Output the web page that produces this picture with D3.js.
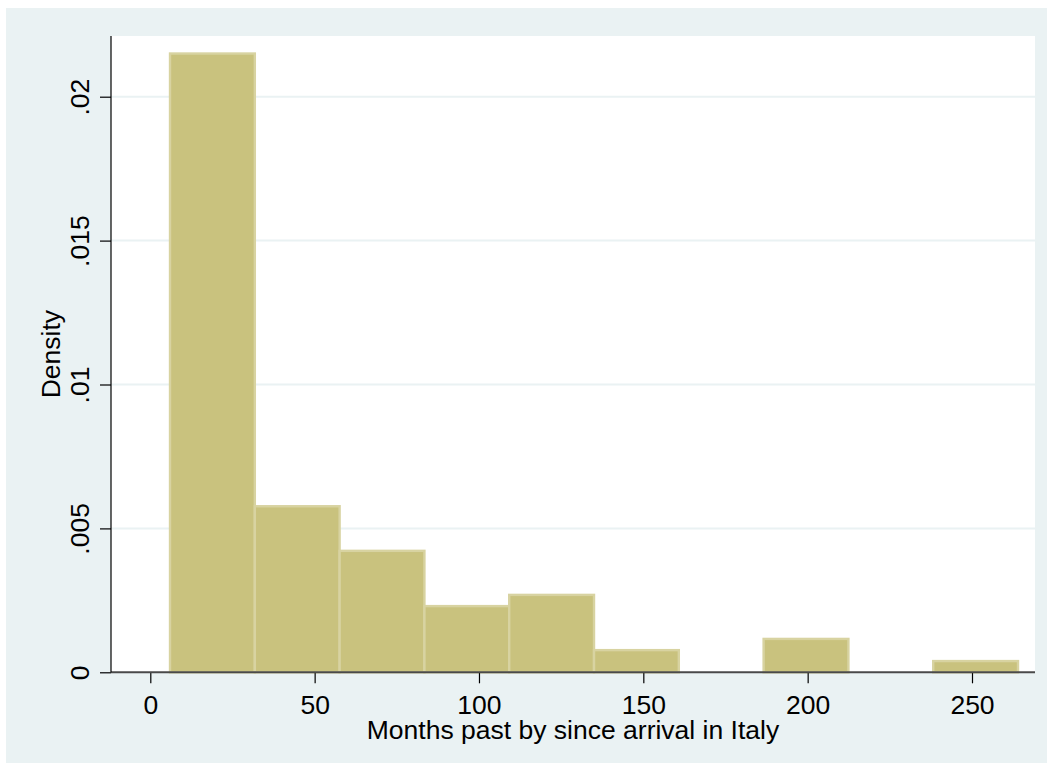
<!DOCTYPE html>
<html>
<head>
<meta charset="utf-8">
<script src="https://cdn.jsdelivr.net/npm/d3@7"></script>
<style>
  html, body { margin: 0; padding: 0; background: #ffffff; }
  svg { display: block; }
  text { font-family: "Liberation Sans", Arial, sans-serif; fill: #000; }
</style>
</head>
<body>
<svg id="chart" width="1053" height="771"></svg>
<script>
// ---- data ----
const binLeft  = [6, 31.8, 57.6, 83.4, 109.2, 135, 160.8, 186.6, 212.4, 238.2];
const binRight = [31.8, 57.6, 83.4, 109.2, 135, 160.8, 186.6, 212.4, 238.2, 264];
const density  = [0.0215, 0.00577, 0.00422, 0.0023, 0.00269, 0.00077, 0, 0.00116, 0, 0.00039];
const xTicks = [0, 50, 100, 150, 200, 250];
const xTickLabels = ["0", "50", "100", "150", "200", "250"];
const yTicks = [0, 0.005, 0.01, 0.015, 0.02];
const yTickLabels = ["0", ".005", ".01", ".015", ".02"];
const xTitle = "Months past by since arrival in Italy";
const yTitle = "Density";

// ---- layout ----
const FS = 26.5;
const plot = { left: 111, right: 1035, top: 36, bottom: 672.3 };
const svg = d3.select("#chart");

// outer graph region
svg.append("rect").attr("x", 6).attr("y", 8).attr("width", 1041).attr("height", 755)
  .attr("fill", "#EAF2F3");
// plot region
svg.append("rect").attr("x", plot.left).attr("y", plot.top)
  .attr("width", plot.right - plot.left).attr("height", plot.bottom - plot.top)
  .attr("fill", "#ffffff");

const x = d3.scaleLinear().domain([0, 250]).range([150.3, 972]);
const y = d3.scaleLinear().domain([0, 0.02]).range([plot.bottom, 96.7]);

// gridlines
svg.append("g").selectAll("line").data(yTicks.filter(d => d > 0)).join("line")
  .attr("x1", plot.left).attr("x2", plot.right)
  .attr("y1", d => y(d)).attr("y2", d => y(d))
  .attr("stroke", "#EAF2F3").attr("stroke-width", 2);

// bars
const bins = binLeft.map((l, i) => ({ l, r: binRight[i], d: density[i] })).filter(b => b.d > 0);
svg.append("g").selectAll("rect").data(bins).join("rect")
  .attr("x", b => x(b.l))
  .attr("y", b => y(b.d))
  .attr("width", b => x(b.r) - x(b.l))
  .attr("height", b => y(0) - y(b.d))
  .attr("fill", "#C9C27E")
  .attr("stroke", "#D8D3A1")
  .attr("stroke-width", 2.4);

// x axis
const xAxis = d3.axisBottom(x).tickValues(xTicks)
  .tickFormat((d, i) => xTickLabels[i]).tickSize(11).tickSizeOuter(0).tickPadding(12);
const gx = svg.append("g").attr("transform", `translate(0,${plot.bottom})`).call(xAxis);
gx.select(".domain").remove();
gx.selectAll(".tick line").attr("stroke", "#000").attr("stroke-width", 1.2);
gx.selectAll(".tick text").attr("font-size", FS).attr("font-family", "Liberation Sans, Arial, sans-serif")
  .attr("fill", "#000");
gx.append("line").attr("x1", plot.left).attr("x2", plot.right).attr("y1", 0).attr("y2", 0)
  .attr("stroke", "#4a4a4a").attr("stroke-width", 2);

// y axis
const yAxis = d3.axisLeft(y).tickValues(yTicks)
  .tickFormat((d, i) => yTickLabels[i]).tickSize(11).tickSizeOuter(0);
const gy = svg.append("g").attr("transform", `translate(${plot.left},0)`).call(yAxis);
gy.select(".domain").remove();
gy.selectAll(".tick line").attr("stroke", "#000").attr("stroke-width", 1.2);
gy.selectAll(".tick text")
  .attr("x", 0).attr("y", 0).attr("dy", null)
  .attr("transform", "translate(-22.5,0) rotate(-90)")
  .attr("text-anchor", "middle")
  .attr("font-size", FS).attr("font-family", "Liberation Sans, Arial, sans-serif")
  .attr("fill", "#000");
gy.append("line").attr("x1", 0).attr("x2", 0).attr("y1", plot.top).attr("y2", plot.bottom)
  .attr("stroke", "#000").attr("stroke-width", 1.2);

// titles
svg.append("text").attr("x", (plot.left + plot.right) / 2).attr("y", 739)
  .attr("text-anchor", "middle").attr("font-size", FS).text(xTitle);
svg.append("text")
  .attr("transform", `translate(60,${(plot.top + plot.bottom) / 2}) rotate(-90)`)
  .attr("text-anchor", "middle").attr("font-size", FS).text(yTitle);
</script>
</body>
</html>
